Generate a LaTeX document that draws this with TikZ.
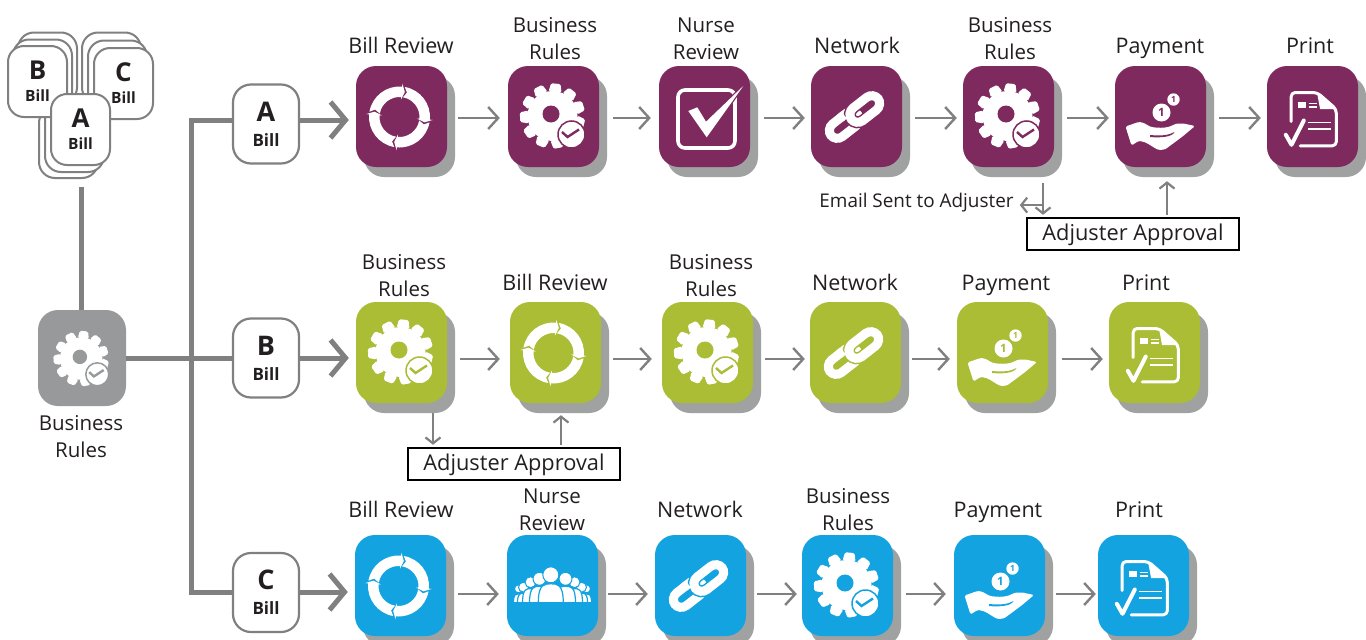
\documentclass[tikz,border=0pt]{standalone}
\usepackage{fontspec}
\setmainfont{Open Sans}
\usetikzlibrary{arrows.meta,calc,shadows}
\definecolor{cP}{HTML}{7F2A5F}
\definecolor{cG}{HTML}{ABBC35}
\definecolor{cB}{HTML}{13A3E0}
\definecolor{cY}{HTML}{97999B}
\definecolor{cS}{HTML}{A0A1A1}
\definecolor{cL}{HTML}{808080}
\definecolor{cT}{HTML}{231F20}
\tikzset{
  tilebox/.style={rectangle,rounded corners=20pt,minimum width=91pt,minimum height=101pt,inner sep=0pt,
    general shadow={shadow xshift=8pt,shadow yshift=-10pt,fill=cS}},
  graybox/.style={rectangle,rounded corners=20pt,fill=cY,minimum width=88pt,minimum height=96pt,inner sep=0pt},
  billbox/.style={rectangle,rounded corners=18pt,draw=cL,line width=2.2pt,fill=white,minimum width=66pt,minimum height=79pt,inner sep=0pt,align=center,text=cT,font=\fontsize{17}{25}\selectfont},
  card/.style={rectangle,rounded corners=16pt,draw=cL,line width=2pt,fill=white,minimum width=59pt,minimum height=71pt,inner sep=0pt,align=center,text=cT,font=\fontsize{15.5}{22}\selectfont},
  lbl/.style={align=center,inner sep=0pt,text=cT,font=\fontsize{20.5}{27}\selectfont},
  lbone/.style={anchor=base,inner sep=0pt,text=cT,font=\fontsize{21.5}{27}\selectfont},
  apbox/.style={rectangle,draw=black,line width=2.4pt,fill=white,minimum width=212pt,minimum height=32pt,inner sep=0pt,text=cT,text height=16pt,text depth=3pt,font=\fontsize{21.8}{24}\selectfont},
  flow/.style={draw=cL,line width=2.4pt,-{Straight Barb[length=10pt,width=22pt,line width=2.4pt]}},
  small/.style={draw=cL,line width=2.2pt,-{Straight Barb[length=6pt,width=15pt,line width=2.2pt]}},
  thick flow/.style={draw=cL,line width=5pt,-{Straight Barb[length=15pt,width=36pt,line width=5pt]}},
  trunk/.style={draw=cL,line width=5pt},
  ico/.style={yscale=-1},
  pics/ringicon/.style={code={
    \begin{scope}[shift={(-2,0.5)}]
    \foreach \t [evaluate=\t as \b using \t-7, evaluate=\t as \a using \t-92, evaluate=\t as \n using \t-85] in {12,102,192,282}
      \fill[white] (\a:30.5) arc[start angle=\a,end angle=\b,radius=30.5] -- (\b:33.5) -- (\t:25.5) -- (\b:17.5) -- (\b:20)
        arc[start angle=\b,end angle=\a,radius=20] -- (\n:25.5) -- cycle;
    \end{scope}}},
  pics/gearicon/.style={code={
    \begin{scope}[shift={(-1,-0.5)}]
    \fill[white] (0,0) circle[radius=25];
    \foreach \i in {0,...,10}
      \fill[white,rounded corners=1.5pt,rotate=6+\i*32.727] (-6.5,-24) -- (-4.8,-32.5) -- (4.8,-32.5) -- (6.5,-24) -- cycle;
    \fill[#1] (-1.5,-2) circle[radius=8.5];
    \end{scope}
    \fill[white,draw=#1,line width=1.5pt] (18,18) circle[radius=13.5];
    \draw[#1,line width=2.4pt] (8.5,15.5) -- (14,20.5) -- (25.5,13);}},
  pics/checkicon/.style={code={
    \draw[white,line width=3.6pt,rounded corners=7pt] (-26.5,-26.5) rectangle (30.5,31.5);
    \fill[white,draw=#1,line width=2.5pt] (-16.2,-5.5) -- (-7.2,-9.2) -- (1.5,5.2) -- (38.8,-30.5) -- (2.2,20.8) -- cycle;
    \fill[white] (-16.2,-5.5) -- (-7.2,-9.2) -- (1.5,5.2) -- (38.8,-30.5) -- (2.2,20.8) -- cycle;}},
  pics/linkicon/.style={code={
    \begin{scope}[shift={(-2,0.5)},rotate=-38]
      \draw[white,line width=9pt,rounded corners=8.5pt] (-30,-8) rectangle (4,8);
      \draw[#1,line width=12pt,rounded corners=8.5pt] (-4,-8) rectangle (30,8);
      \draw[white,line width=9pt,rounded corners=8.5pt] (-4,-8) rectangle (30,8);
      \draw[white,line width=9pt] (-12,-8) -- (-7,-8);
    \end{scope}}},
  pics/handicon/.style={code={
    \fill[white] (1,-4) circle[radius=9];
    \fill[white] (13,-17) circle[radius=6.2];
    \node[name=coinA,inner sep=0pt,text=#1,font=\fontsize{11.5}{11}\bfseries\selectfont] at (1,-4) {1};
    \node[name=coinB,inner sep=0pt,text=#1,font=\fontsize{8.5}{8}\bfseries\selectfont] at (13,-17) {1};
    \fill[white,rounded corners=1.5pt] (-35,10) -- (-22,5.5) .. controls (-16,6) and (-13,9) .. (-9,10.5)
      .. controls (-3,11.5) and (4,11.5) .. (9.5,10) -- (16,7) -- (23,7) -- (34.5,9.5) -- (22,20) -- (4.5,33) -- (-2,33.5)
      .. controls (-9,30) and (-14,25) .. (-22,24.5) -- (-29,29) -- cycle;
    \fill[#1] (-10.5,18.5) .. controls (0,19.5) and (8,19) .. (14,15.5) .. controls (12,20.5) and (0,21.5) .. (-10.5,20.5) -- cycle;}},
  pics/printicon/.style={code={
    \draw[white,line width=3pt,line cap=round,line join=round,rounded corners=4pt] (-21.3,5) -- (-21.3,-24) -- (4.7,-24) -- (23.8,-7.3) -- (23.8,29.3) -- (-12.3,29.3);
    \fill[white] (4.7,-23) -- (23.8,-7.3) -- (7.6,-7.3) -- cycle;
    \fill[white] (-14.1,-15) rectangle (-6.1,-8.3);
    \draw[white,line width=1.8pt] (-4,-13) -- (4.7,-13) (-4,-9.3) -- (4.7,-9.3) (-5,6) -- (18.4,6) (-5,12.7) -- (18.4,12.7);
    \draw[white,line width=4pt,line cap=round,line join=round] (-26.7,18.3) -- (-21,28.3) -- (-8.7,4);}},
  pics/crowdicon/.style={code={
    \foreach \x/\h/\r/\w in {-34/3.3/4/5,34/3.3/4/5,-29/1.7/5/6,29/1.7/5/6,-22/-3.3/5.5/8,22/-3.3/5.5/8,-13/-6.7/6.5/10,13/-6.7/6.5/10,-1.7/-10.7/8/12.5}{
      \fill[white,draw=#1,line width=1pt] (\x,\h) circle[radius=\r];
      \pgfmathsetmacro{\tp}{\h+\r+1}
      \fill[white,draw=#1,line width=1.2pt] (\x-\w,17.3) .. controls (\x-\w,\tp) and (\x-\w*.5,\tp) .. (\x,\tp) .. controls (\x+\w*.5,\tp) and (\x+\w,\tp) .. (\x+\w,17.3) -- cycle;
    }}},
}
\newcommand{\tilenode}[4]{\node[tilebox,fill=#4] (#1) at (#2,#3) {};}
\newcommand{\billtext}[1]{{\fontsize{27}{25}\bfseries\selectfont #1}\\{\bfseries Bill}}
\newcommand{\cardtext}[1]{{\fontsize{26}{22}\bfseries\selectfont #1}\\{\bfseries Bill}}
\newcommand{\flowto}[5]{\draw[flow,shorten <=#4pt,shorten >=#5pt] (#1.east |- #3) -- (#2.west |- #3);}
\begin{document}
\begin{tikzpicture}[x=1pt,y=1pt,yscale=-1]
\useasboundingbox (0,0) rectangle (1366,640);
\fill[white] (0,0) rectangle (1366,640);
% row guides
\coordinate (rowA) at (0,118);
\coordinate (rowB) at (0,359);
\coordinate (rowC) at (0,594);
\coordinate (trunkTop) at (191,120);
\coordinate (trunkBot) at (191,592);
% stack
\node[card] (a3) at (68.5,142.5) {};
\node[card] (a2) at (74.5,136.5) {};
\node[card] (b3) at (47.5,68) {};
\node[card] (b2) at (42.5,75) {};
\node[card] (c3) at (111.5,68) {};
\node[card] (c2) at (117.5,76) {};
\node[card] (b1) at (37.5,81.5) {\cardtext{B}};
\node[card] (c1) at (123.5,83.5) {\cardtext{C}};
\node[card] (a1) at (80.5,129.5) {\cardtext{A}};
% gray source
\node[graybox] (gray) at (82,358) {};
\pic[ico,scale=.85] at (82,359) {gearicon=cY};
\node[lbl] (lgray) at (81,436.5) {Business\\Rules};
\coordinate (stackBot) at (81,187);
\draw[trunk] (stackBot) -- (gray.north -| stackBot);
% bills
\node[billbox] (billA) at (266,124) {\billtext{A}};
\node[billbox] (billB) at (266,358) {\billtext{B}};
\node[billbox] (billC) at (266,592.5) {\billtext{C}};
\draw[trunk] (billA.west |- trunkTop) -- (trunkTop) -- (trunkBot) -- (billC.west |- trunkBot);
\draw[trunk] (gray.east) -- (billB.west);
% row A
\tilenode{p1}{401.5}{116.5}{cP}
\tilenode{p2}{553.5}{116.5}{cP}
\tilenode{p3}{704.5}{116.5}{cP}
\tilenode{p4}{856.5}{116.5}{cP}
\tilenode{p5}{1008.5}{116.5}{cP}
\tilenode{p6}{1160.5}{116.5}{cP}
\tilenode{p7}{1312.5}{116.5}{cP}
\pic[ico] at (p1) {ringicon};
\pic[ico] at (p2) {gearicon=cP};
\pic[ico] at (p3) {checkicon=cP};
\pic[ico] at (p4) {linkicon=cP};
\pic[ico] at (p5) {gearicon=cP};
\pic[ico] at (p6) {handicon=cP};
\pic[ico] at (p7) {printicon=cP};
\node[lbone] (lp1) at (401,53) {Bill Review};
\node[lbl] (lp2) at (555,38.5) {Business\\Rules};
\node[lbl] (lp3) at (706,38.5) {Nurse\\Review};
\node[lbone] (lp4) at (857,53) {Network};
\node[lbl] (lp5) at (1010,38.5) {Business\\Rules};
\node[lbone] (lp6) at (1160,53) {Payment};
\node[lbone] (lp7) at (1310,53) {Print};
\draw[thick flow,shorten >=7pt] (billA.east |- trunkTop) -- (p1.west |- trunkTop);
\flowto{p1}{p2}{rowA}{11}{8}
\flowto{p2}{p3}{rowA}{14}{8}
\flowto{p3}{p4}{rowA}{14}{6}
\flowto{p4}{p5}{rowA}{13}{6}
\flowto{p5}{p6}{rowA}{13}{6}
\flowto{p6}{p7}{rowA}{13}{6}
\node[apbox] (apA) at (1133,234) {Adjuster Approval};
\node[anchor=base,inner sep=0pt,text=cT,font=\fontsize{18.9}{20}\selectfont] (email) at (916.5,207) {Email Sent to Adjuster};
\draw[small,shorten <=16pt,shorten >=2pt] ([xshift=34.5pt]p5.south) -- ([xshift=34.5pt]p5.south |- apA.north);
\coordinate (emailTurn) at ([xshift=34.5pt,yshift=3pt]p5.south |- email.east);
\draw[small,shorten >=6pt] (emailTurn) -- (emailTurn -| email.east);
\draw[small,shorten <=2pt,shorten >=14pt] ([xshift=6.5pt]p6.south |- apA.north) -- ([xshift=6.5pt]p6.south);
% row B
\tilenode{g1}{401.5}{352.5}{cG}
\tilenode{g2}{555.5}{352.5}{cG}
\tilenode{g3}{707.5}{352.5}{cG}
\tilenode{g4}{855.5}{352.5}{cG}
\tilenode{g5}{1002.5}{352.5}{cG}
\tilenode{g6}{1154.5}{352.5}{cG}
\pic[ico] at (g1) {gearicon=cG};
\pic[ico] at (g2) {ringicon};
\pic[ico] at (g3) {gearicon=cG};
\pic[ico] at (g4) {linkicon=cG};
\pic[ico] at (g5) {handicon=cG};
\pic[ico] at (g6) {printicon=cG};
\node[lbl] (lg1) at (404,275.5) {Business\\Rules};
\node[lbone] (lg2) at (555,290) {Bill Review};
\node[lbl] (lg3) at (711,275.5) {Business\\Rules};
\node[lbone] (lg4) at (855,290) {Network};
\node[lbone] (lg5) at (1006,290) {Payment};
\node[lbone] (lg6) at (1146,290) {Print};
\draw[thick flow,shorten >=7pt] (billB.east) -- (g1.west |- billB.east);
\flowto{g1}{g2}{rowB}{13}{10}
\flowto{g2}{g3}{rowB}{12}{10}
\flowto{g3}{g4}{rowB}{12}{5}
\flowto{g4}{g5}{rowB}{11}{7}
\flowto{g5}{g6}{rowB}{14}{6}
\node[apbox] (apB) at (514,464) {Adjuster Approval};
\draw[small,shorten <=10pt,shorten >=2pt] ([xshift=31.5pt]g1.south) -- ([xshift=31.5pt]g1.south |- apB.north);
\draw[small,shorten <=2pt,shorten >=12pt] ([xshift=5.5pt]g2.south |- apB.north) -- ([xshift=5.5pt]g2.south);
% row C
\tilenode{b1t}{400.5}{585.5}{cB}
\tilenode{b2t}{552.5}{585.5}{cB}
\tilenode{b3t}{700.5}{585.5}{cB}
\tilenode{b4t}{847.5}{585.5}{cB}
\tilenode{b5t}{999.5}{585.5}{cB}
\tilenode{b6t}{1143.5}{585.5}{cB}
\pic[ico] at (b1t) {ringicon};
\pic[ico] at (b2t) {crowdicon=cB};
\pic[ico] at (b3t) {linkicon=cB};
\pic[ico] at (b4t) {gearicon=cB};
\pic[ico] at (b5t) {handicon=cB};
\pic[ico] at (b6t) {printicon=cB};
\node[lbone] (lb1) at (401,517) {Bill Review};
\node[lbl] (lb2) at (552,509.5) {Nurse\\Review};
\node[lbone] (lb3) at (700,517) {Network};
\node[lbl] (lb4) at (848,509.5) {Business\\Rules};
\node[lbone] (lb5) at (998,517) {Payment};
\node[lbone] (lb6) at (1139,517) {Print};
\draw[thick flow,shorten >=7pt] (billC.east |- trunkBot) -- (b1t.west |- trunkBot);
\flowto{b1t}{b2t}{rowC}{12}{8}
\flowto{b2t}{b3t}{rowC}{10}{7}
\flowto{b3t}{b4t}{rowC}{11}{5}
\flowto{b4t}{b5t}{rowC}{13}{8}
\flowto{b5t}{b6t}{rowC}{11}{2}
\end{tikzpicture}
\end{document}
